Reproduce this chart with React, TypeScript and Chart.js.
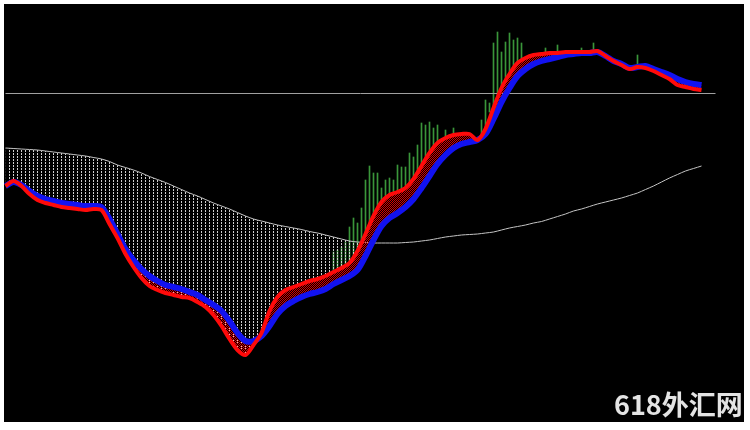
import { useEffect, useRef } from 'react';
import { Chart, registerables } from 'chart.js';

Chart.register(...registerables);

// bar spacing between samples (in bars)
const barStep = 2;

// Fast moving average (red ribbon)
const fastMA = [
  236, 241, 236, 228, 222, 219, 217, 215, 214, 213,
  212, 213, 212, 198, 184, 168, 155, 144, 136, 132,
  129, 127, 125, 124, 120, 115, 107, 96, 83, 72,
  67, 77, 89, 111, 125, 132, 135, 138, 141, 143,
  146, 150, 154, 159, 171, 188, 206, 220, 227, 230,
  234, 243, 256, 269, 279, 284, 287, 288, 288, 282,
  293, 314, 334, 348, 359, 364, 367, 368, 369, 369,
  370, 370, 370, 370, 371, 366, 361, 357, 353, 355,
  354, 351, 347, 343, 337, 335, 333, 332,
];

// Medium moving average (blue ribbon)
const midMA = [
  236, 240, 237, 231, 226, 223, 221, 219, 218, 217,
  216, 216, 215, 203, 188, 173, 162, 153, 146, 141,
  137, 135, 133, 130, 127, 122, 117, 111, 101, 89,
  81, 81, 86, 96, 108, 116, 121, 125, 128, 130,
  133, 138, 142, 146, 152, 166, 182, 196, 204, 209,
  215, 223, 234, 246, 258, 267, 274, 278, 280, 282,
  288, 303, 320, 334, 346, 353, 358, 361, 363, 365,
  367, 368, 369, 369, 370, 366, 361, 358, 354, 355,
  356, 353, 350, 347, 343, 340, 338, 337,
];

// Slow moving average (grey line)
const slowMA = [
  274, 273.5, 273, 272.5, 272, 271, 270, 269, 268, 267,
  266, 264.5, 263, 260.5, 257, 254.5, 252, 249, 245.5, 242.5,
  239.5, 236, 232.5, 229, 226, 222.5, 219, 216, 213, 209.5,
  206, 203, 201, 199, 197, 195.5, 194, 192.5, 190.5, 189,
  187, 185, 183, 181, 180, 179.5, 179, 179, 179, 179,
  179.5, 180, 181, 182, 183.5, 185, 186, 187, 187.5, 188,
  189, 190, 192, 194, 195.5, 197, 199, 200.5, 203, 205.5,
  208, 211, 213, 215.5, 218, 220, 222, 224, 226.5, 229,
  232.5, 236, 240, 244, 247.5, 251, 253.5, 256,
];

// Horizontal reference level
const levelLine = 328.5;
const levelFrom = 0;
const levelTo = 177.5;

// Green histogram bars (bar index, bottom, top)
const histBar = [
  82, 83, 84, 85, 86, 87, 88, 89, 90, 91, 92, 93, 94, 95, 96, 97, 98, 99, 100,
  101, 102, 103, 104, 105, 106, 107, 108, 110, 112, 119, 120, 121, 122, 123,
  124, 125, 126, 127, 128, 129, 135, 138, 144, 147, 158,
];
const histLow = [
  150, 152, 154, 156, 159, 165, 171, 179, 188, 197, 206, 214, 220, 224, 227, 229, 230, 232, 234,
  239, 243, 249, 256, 262, 269, 274, 279, 284, 287, 286, 293, 310, 314, 327,
  334, 341, 348, 354, 359, 362, 368, 369, 370, 370, 355,
];
const histHigh = [
  170, 172, 175, 180, 195, 204, 199, 214, 242, 256, 249, 249, 234, 242, 244, 242, 257, 255, 255,
  269, 265, 277, 299, 297, 300, 294, 297, 292, 294, 302, 322, 319, 379, 390,
  370, 380, 389, 382, 384, 379, 374, 377, 374, 379, 367,
];

export default function App() {
  const ref = useRef<HTMLCanvasElement>(null);

  useEffect(() => {
    const canvas = ref.current!;
    const mainCtx = canvas.getContext('2d')!;
    const mk = (w: number, h: number, draw: (g: CanvasRenderingContext2D) => void) => {
      const c = document.createElement('canvas');
      c.width = w;
      c.height = h;
      const g = c.getContext('2d')!;
      draw(g);
      return mainCtx.createPattern(c, 'repeat')!;
    };
    const dashPattern = mk(4, 3, (g) => {
      g.fillStyle = '#cfcfcf';
      g.fillRect(1, 0, 1, 2);
    });
    const hatch = mk(2, 2, (g) => {
      g.fillStyle = '#d80000';
      g.fillRect(0, 0, 1, 1);
      g.fillRect(1, 1, 1, 1);
    });

    const xs = fastMA.map((_, i) => i * barStep);
    const pts = (arr: number[]) => arr.map((v, i) => ({ x: xs[i], y: v }));

    const bg = {
      id: 'bg',
      beforeDraw(chart: any) {
        const { ctx, chartArea: a } = chart;
        ctx.save();
        ctx.fillStyle = '#000';
        ctx.fillRect(a.left, a.top, a.width, a.height);
        ctx.restore();
      },
    };

    const chart = new Chart(canvas, {
      type: 'line',
      data: {
        datasets: [
          {
            label: 'Fast',
            data: pts(fastMA),
            borderColor: '#ff0a0a',
            borderWidth: 4,
            pointRadius: 0,
            tension: 0.3,
            fill: false,
            order: 1,
          },
          {
            label: 'Mid',
            data: pts(midMA),
            borderColor: '#1212f0',
            borderWidth: 6,
            pointRadius: 0,
            tension: 0.3,
            fill: { target: 0, above: hatch, below: hatch },
            order: 2,
          } as any,
          {
            label: 'Slow',
            data: pts(slowMA),
            borderColor: '#c4c4c4',
            borderWidth: 1,
            pointRadius: 0,
            tension: 0.3,
            fill: { target: 0, above: dashPattern, below: 'rgba(0,0,0,0)' },
            order: 3,
          } as any,
          {
            label: 'Level',
            data: [
              { x: levelFrom, y: levelLine },
              { x: levelTo, y: levelLine },
            ],
            borderColor: '#a0a0a0',
            borderWidth: 1,
            pointRadius: 0,
            fill: false,
            order: 4,
          },
          {
            type: 'bar',
            label: 'Hist',
            data: histBar.map((b, i) => ({ x: b, y: [histLow[i], histHigh[i]] })),
            backgroundColor: '#3a963a',
            borderWidth: 0,
            barThickness: 1,
            order: 5,
          } as any,
        ],
      },
      options: {
        animation: false,
        responsive: false,
        events: [],
        plugins: { legend: { display: false }, tooltip: { enabled: false } },
        layout: { padding: { left: 4, top: 4, right: 6, bottom: 8 } },
        scales: {
          x: { type: 'linear', min: -0.375, max: 184.625, display: false, offset: false },
          y: { type: 'linear', min: 0, max: 418, display: false },
        },
      },
      plugins: [bg],
    });
    return () => chart.destroy();
  }, []);

  return (
    <div style={{ position: 'absolute', left: 0, top: 0, width: 750, height: 430, background: '#fff', overflow: 'hidden' }}>
      <canvas ref={ref} width={750} height={430} style={{ display: 'block' }} />
      <div
        style={{
          position: 'absolute',
          left: 614,
          top: 390,
          fontFamily: '"Noto Sans CJK SC", "Noto Sans", sans-serif',
          fontWeight: 700,
          fontSize: 27,
          lineHeight: '27px',
          color: '#e4e4e4',
          whiteSpace: 'nowrap',
        }}
      >
        618外汇网
      </div>
    </div>
  );
}
